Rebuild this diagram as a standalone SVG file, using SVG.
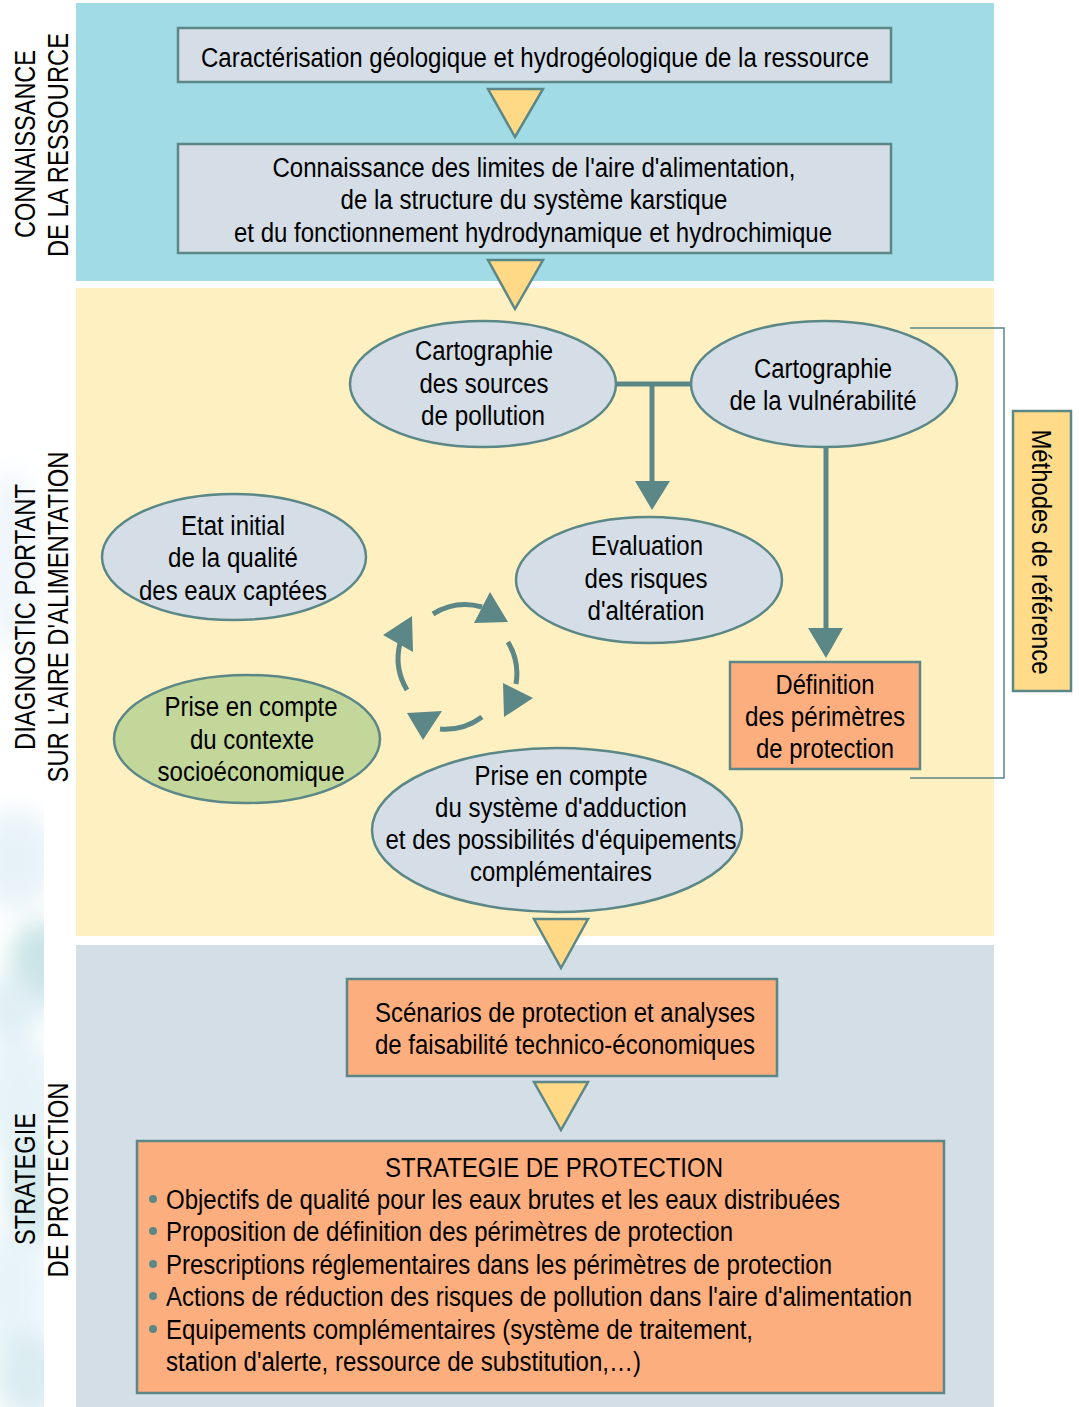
<svg xmlns="http://www.w3.org/2000/svg" width="1079" height="1407" viewBox="0 0 1079 1407">
<defs>
<style>
.t{font-family:"Liberation Sans",Arial,sans-serif;font-size:27px;fill:#000;text-anchor:middle}
.l{font-family:"Liberation Sans",Arial,sans-serif;font-size:30px;fill:#000;text-anchor:middle}
.s{text-anchor:start}
.node{stroke:#5b8787;stroke-width:2.5}
.grey{fill:#d5dee6}
.sal{fill:#fdae7e}
.tri{fill:#ffd985;stroke:#5b8787;stroke-width:2.5;stroke-linejoin:miter}
.con{stroke:#5b8787;stroke-width:5;fill:none}
.head{fill:#5b8787}
.bul{fill:#5b8787}
</style>
<filter id="blur" x="-100%" y="-20%" width="300%" height="140%"><feGaussianBlur stdDeviation="12"/></filter>
<clipPath id="lc"><rect x="0" y="0" width="44" height="1407"/></clipPath>
</defs>
<rect x="0" y="0" width="1079" height="1407" fill="#fff"/>
<g id="decor" clip-path="url(#lc)">
<g filter="url(#blur)" opacity="0.55">
<ellipse cx="10" cy="560" rx="30" ry="90" fill="#e3eff8"/>
<ellipse cx="15" cy="860" rx="40" ry="50" fill="#d4e8f3"/>
<ellipse cx="40" cy="965" rx="30" ry="45" fill="#9ccfd0"/>
<ellipse cx="10" cy="1010" rx="30" ry="35" fill="#c8e2ee"/>
<ellipse cx="20" cy="1100" rx="40" ry="60" fill="#d2e8f1"/>
<ellipse cx="35" cy="1190" rx="30" ry="55" fill="#b2d9de"/>
<ellipse cx="10" cy="1290" rx="40" ry="60" fill="#d6eaf4"/>
<ellipse cx="30" cy="1375" rx="35" ry="45" fill="#bddde6"/>
</g>
</g>
<g id="panels">
<rect x="76" y="3" width="918" height="278" fill="#a0dbe6"/>
<rect x="76" y="288" width="918" height="648" fill="#fef0c1"/>
<rect x="76" y="945" width="918" height="462" fill="#d3dee7"/>
</g>
<g id="side-labels">
<text class="l" transform="translate(35,144) rotate(-90)" textLength="188" lengthAdjust="spacingAndGlyphs">CONNAISSANCE</text>
<text class="l" transform="translate(68,145) rotate(-90)" textLength="224" lengthAdjust="spacingAndGlyphs">DE LA RESSOURCE</text>
<text class="l" transform="translate(35,617) rotate(-90)" textLength="266" lengthAdjust="spacingAndGlyphs">DIAGNOSTIC PORTANT</text>
<text class="l" transform="translate(68,617) rotate(-90)" textLength="331" lengthAdjust="spacingAndGlyphs">SUR L'AIRE D'ALIMENTATION</text>
<text class="l" transform="translate(35,1179) rotate(-90)" textLength="132" lengthAdjust="spacingAndGlyphs">STRATEGIE</text>
<text class="l" transform="translate(68,1180) rotate(-90)" textLength="195" lengthAdjust="spacingAndGlyphs">DE PROTECTION</text>
</g>
<g id="connectors">
<polygon class="tri" points="488,89 543,89 515,137"/>
<polygon class="tri" points="488,260 543,260 515,309"/>
<polygon class="tri" points="534,919 588,919 561,968"/>
<polygon class="tri" points="534,1082 588,1082 561,1130"/>
<line class="con" x1="614" y1="384" x2="693" y2="384"/>
<line class="con" x1="652" y1="384" x2="652" y2="483"/>
<polygon class="head" points="635,481 670,481 652,510"/>
<line class="con" x1="826" y1="446" x2="826" y2="630"/>
<polygon class="head" points="808,628 843,628 826,658"/>
<polyline points="910,328 1004,328 1004,778 910,778" fill="none" stroke="#5b8787" stroke-width="1.5"/>
<g id="cycle">
<path class="con" d="M433,614 A62,62 0 0 1 482,607"/>
<polygon class="head" points="490,592 508,622 474,623"/>
<path class="con" d="M508,642 A62,62 0 0 1 516,684"/>
<polygon class="head" points="503,683 533,698 504,717"/>
<path class="con" d="M482,717 A62,62 0 0 1 440,729"/>
<polygon class="head" points="407,713 442,711 423,740"/>
<path class="con" d="M407,690 A62,62 0 0 1 400,643"/>
<polygon class="head" points="412,616 383,635 413,652"/>
</g>
</g>
<g id="n-caracterisation">
<rect class="node grey" x="178" y="28" width="713" height="54"/>
<text class="t" x="535" y="67" textLength="668" lengthAdjust="spacingAndGlyphs">Caractérisation géologique et hydrogéologique de la ressource</text>
</g>
<g id="n-connaissance">
<rect class="node grey" x="178" y="144" width="713" height="109"/>
<text class="t" x="534" y="177" textLength="523" lengthAdjust="spacingAndGlyphs">Connaissance des limites de l'aire d'alimentation,</text>
<text class="t" x="534" y="209" textLength="387" lengthAdjust="spacingAndGlyphs">de la structure du système karstique</text>
<text class="t" x="533" y="242" textLength="598" lengthAdjust="spacingAndGlyphs">et du fonctionnement hydrodynamique et hydrochimique</text>
</g>
<g id="n-sources">
<ellipse class="node grey" cx="483" cy="384" rx="133" ry="63"/>
<text class="t" x="484" y="360" textLength="138" lengthAdjust="spacingAndGlyphs">Cartographie</text>
<text class="t" x="484" y="393" textLength="129" lengthAdjust="spacingAndGlyphs">des sources</text>
<text class="t" x="483" y="425" textLength="124" lengthAdjust="spacingAndGlyphs">de pollution</text>
</g>
<g id="n-vulnerabilite">
<ellipse class="node grey" cx="824" cy="384" rx="133" ry="63"/>
<text class="t" x="823" y="378" textLength="138" lengthAdjust="spacingAndGlyphs">Cartographie</text>
<text class="t" x="823" y="410" textLength="187" lengthAdjust="spacingAndGlyphs">de la vulnérabilité</text>
</g>
<g id="n-evaluation">
<ellipse class="node grey" cx="649" cy="580" rx="133" ry="63"/>
<text class="t" x="647" y="555" textLength="112" lengthAdjust="spacingAndGlyphs">Evaluation</text>
<text class="t" x="646" y="588" textLength="123" lengthAdjust="spacingAndGlyphs">des risques</text>
<text class="t" x="646" y="620" textLength="117" lengthAdjust="spacingAndGlyphs">d'altération</text>
</g>
<g id="n-etat">
<ellipse class="node grey" cx="234" cy="557" rx="132" ry="63"/>
<text class="t" x="233" y="535" textLength="104" lengthAdjust="spacingAndGlyphs">Etat initial</text>
<text class="t" x="233" y="567" textLength="130" lengthAdjust="spacingAndGlyphs">de la qualité</text>
<text class="t" x="233" y="600" textLength="188" lengthAdjust="spacingAndGlyphs">des eaux captées</text>
</g>
<g id="n-socio">
<ellipse class="node" fill="#c3d79b" cx="247" cy="739" rx="133" ry="64"/>
<text class="t" x="251" y="716" textLength="173" lengthAdjust="spacingAndGlyphs">Prise en compte</text>
<text class="t" x="252" y="749" textLength="124" lengthAdjust="spacingAndGlyphs">du contexte</text>
<text class="t" x="251" y="781" textLength="187" lengthAdjust="spacingAndGlyphs">socioéconomique</text>
</g>
<g id="n-adduction">
<ellipse class="node grey" cx="557" cy="830" rx="185" ry="82"/>
<text class="t" x="561" y="785" textLength="173" lengthAdjust="spacingAndGlyphs">Prise en compte</text>
<text class="t" x="561" y="817" textLength="252" lengthAdjust="spacingAndGlyphs">du système d'adduction</text>
<text class="t" x="561" y="849" textLength="351" lengthAdjust="spacingAndGlyphs">et des possibilités d'équipements</text>
<text class="t" x="561" y="881" textLength="182" lengthAdjust="spacingAndGlyphs">complémentaires</text>
</g>
<g id="n-definition">
<rect class="node sal" x="730" y="662" width="190" height="107"/>
<text class="t" x="825" y="694" textLength="99" lengthAdjust="spacingAndGlyphs">Définition</text>
<text class="t" x="825" y="726" textLength="160" lengthAdjust="spacingAndGlyphs">des périmètres</text>
<text class="t" x="825" y="758" textLength="138" lengthAdjust="spacingAndGlyphs">de protection</text>
</g>
<g id="n-methodes">
<rect class="node" fill="#ffdb8a" x="1013" y="411" width="58" height="280"/>
<text class="t" transform="translate(1032,552) rotate(90)" textLength="245" lengthAdjust="spacingAndGlyphs">Méthodes de référence</text>
</g>
<g id="n-scenarios">
<rect class="node sal" x="347" y="979" width="430" height="97"/>
<text class="t" x="565" y="1022" textLength="380" lengthAdjust="spacingAndGlyphs">Scénarios de protection et analyses</text>
<text class="t" x="565" y="1054" textLength="380" lengthAdjust="spacingAndGlyphs">de faisabilité technico-économiques</text>
</g>
<g id="n-strategie">
<rect class="node sal" x="137" y="1141" width="807" height="252" stroke-width="3"/>
<text class="t" x="554" y="1177" textLength="338" lengthAdjust="spacingAndGlyphs">STRATEGIE DE PROTECTION</text>
<circle class="bul" cx="153" cy="1199" r="4"/>
<circle class="bul" cx="153" cy="1231" r="4"/>
<circle class="bul" cx="153" cy="1264" r="4"/>
<circle class="bul" cx="153" cy="1296" r="4"/>
<circle class="bul" cx="153" cy="1329" r="4"/>
<text class="t s" x="166" y="1209" textLength="674" lengthAdjust="spacingAndGlyphs">Objectifs de qualité pour les eaux brutes et les eaux distribuées</text>
<text class="t s" x="166" y="1241" textLength="567" lengthAdjust="spacingAndGlyphs">Proposition de définition des périmètres de protection</text>
<text class="t s" x="166" y="1274" textLength="666" lengthAdjust="spacingAndGlyphs">Prescriptions réglementaires dans les périmètres de protection</text>
<text class="t s" x="166" y="1306" textLength="746" lengthAdjust="spacingAndGlyphs">Actions de réduction des risques de pollution dans l'aire d'alimentation</text>
<text class="t s" x="166" y="1339" textLength="587" lengthAdjust="spacingAndGlyphs">Equipements complémentaires (système de traitement,</text>
<text class="t s" x="166" y="1371" textLength="475" lengthAdjust="spacingAndGlyphs">station d'alerte, ressource de substitution,…)</text>
</g>
</svg>
